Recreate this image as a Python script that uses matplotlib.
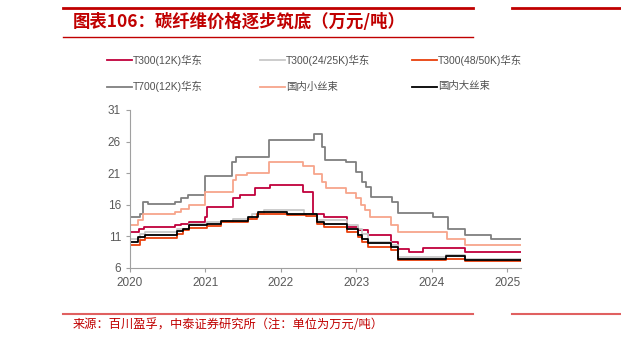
import matplotlib.pyplot as plt
from matplotlib.lines import Line2D

plt.rcParams['font.family'] = ['Liberation Sans', 'Noto Sans CJK SC', 'DejaVu Sans']

# 碳纤维价格（万元/吨），阶梯数据：变动时点（年）与价格
t700_x = [2020.0, 2020.13, 2020.17, 2020.24, 2020.60, 2020.68, 2020.77, 2021.0, 2021.35, 2021.40,
          2021.84, 2022.44, 2022.55, 2022.59, 2022.87, 2023.0, 2023.07, 2023.13, 2023.2, 2023.47,
          2023.55, 2024.02, 2024.21, 2024.44, 2024.79]
t700_y = [14.0, 14.5, 16.5, 16.2, 16.5, 17.0, 17.6, 20.6, 22.8, 23.5,
          26.2, 27.2, 25.2, 23.1, 22.8, 21.2, 19.6, 18.8, 17.25, 16.5,
          14.7, 14.1, 12.1, 11.2, 10.6]

small_x = [2020.0, 2020.10, 2020.17, 2020.60, 2020.68, 2020.78, 2021.0, 2021.36, 2021.40, 2021.55,
           2021.84, 2022.30, 2022.44, 2022.55, 2022.60, 2022.87, 2023.0, 2023.06, 2023.12, 2023.18,
           2023.46, 2023.55, 2024.2, 2024.44]
small_y = [12.8, 13.6, 14.5, 14.9, 15.4, 15.9, 18.0, 19.9, 20.7, 21.1,
           22.7, 22.2, 20.9, 19.6, 18.6, 17.9, 17.0, 16.0, 15.2, 14.1,
           12.8, 11.7, 10.55, 9.6]

t300_x = [2020.0, 2020.12, 2020.18, 2020.60, 2020.68, 2020.78, 2021.0, 2021.02, 2021.36, 2021.46,
          2021.66, 2021.86, 2022.29, 2022.43, 2022.57, 2022.88, 2023.02, 2023.15, 2023.46, 2023.55,
          2023.7, 2023.88, 2024.44]
t300_y = [11.7, 12.2, 12.5, 12.8, 13.0, 13.3, 14.1, 15.7, 17.0, 17.5,
          18.6, 19.2, 18.0, 14.6, 14.1, 12.5, 12.0, 11.2, 10.1, 9.0,
          8.6, 9.1, 8.6]

t300_24_x = [2020.0, 2020.13, 2020.20, 2020.62, 2020.78, 2021.02, 2021.36, 2021.62, 2021.77, 2022.31,
             2022.48, 2022.88, 2023.02, 2023.08, 2023.15, 2023.46, 2023.55, 2024.19, 2024.44]
t300_24_y = [10.6, 11.4, 11.7, 12.2, 13.0, 13.3, 13.7, 14.6, 15.1, 14.6,
             13.6, 12.8, 12.2, 11.4, 10.1, 9.6, 7.8, 8.0, 7.5]

large_x = [2020.0, 2020.11, 2020.2, 2020.62, 2020.7, 2020.78, 2021.02, 2021.2, 2021.57, 2021.7,
           2022.08, 2022.33, 2022.48, 2022.57, 2022.88, 2023.02, 2023.08, 2023.15, 2023.46, 2023.55,
           2024.19, 2024.44]
large_y = [10.1, 10.9, 11.2, 11.8, 12.2, 12.8, 13.0, 13.4, 14.1, 14.8,
           14.6, 14.5, 13.2, 13.0, 12.2, 11.2, 10.55, 9.9, 9.3, 7.5,
           7.85, 7.2]

t300_48_x = [2020.0, 2020.13, 2020.2, 2020.62, 2020.7, 2020.78, 2021.02, 2021.2, 2021.57, 2021.68,
             2022.08, 2022.33, 2022.48, 2022.57, 2022.88, 2023.02, 2023.08, 2023.15, 2023.46, 2023.55,
             2024.19, 2024.44]
t300_48_y = [9.6, 10.4, 10.8, 11.4, 12.0, 12.3, 12.7, 13.2, 13.7, 14.5,
             14.4, 14.3, 13.0, 12.5, 11.7, 10.9, 10.1, 9.3, 8.8, 7.2,
             7.5, 7.05]

x_end = 2025.18
year_ticks = [2020, 2021, 2022, 2023, 2024, 2025]
y_ticks = [6, 11, 16, 21, 26, 31]

series = [
    ("T300(12K)华东", t300_x, t300_y, "#C0003C"),
    ("T300(24/25K)华东", t300_24_x, t300_24_y, "#C8C8C8"),
    ("T300(48/50K)华东", t300_48_x, t300_48_y, "#E8400C"),
    ("T700(12K)华东", t700_x, t700_y, "#7F7F7F"),
    ("国内小丝束", small_x, small_y, "#F7A58B"),
    ("国内大丝束", large_x, large_y, "#000000"),
]
draw_order = [3, 4, 0, 1, 2, 5]

fig = plt.figure(figsize=(6.21, 3.45), dpi=100)
ax = fig.add_axes([130 / 621, 1 - 268 / 345, (520.7 - 130) / 621, (268 - 110) / 345])

for i in draw_order:
    name, xs, ys, c = series[i]
    ax.step(xs + [x_end], ys + [ys[-1]], where='post', color=c, lw=1.3, zorder=2 + i * 0.1)

ax.set_xlim(2020, x_end)
ax.set_ylim(6, 31)
ax.set_xticks(year_ticks)
ax.set_yticks(y_ticks)
for s in ['top', 'right']:
    ax.spines[s].set_visible(False)
for s in ['left', 'bottom']:
    ax.spines[s].set_color('#A0A0A0')
    ax.spines[s].set_linewidth(0.8)
ax.tick_params(colors='#A0A0A0', length=3, width=0.8, labelsize=8.5, labelcolor='#595959')

# 图例（两行三列）
legend_cols = [107, 260, 412]
legend_rows = [60, 86.5]
for k, (name, xs, ys, c) in enumerate(series):
    r, col = divmod(k, 3)
    x0 = legend_cols[col] / 621
    y0 = 1 - legend_rows[r] / 345
    fig.add_artist(Line2D([x0, x0 + 25 / 621], [y0, y0], color=c, lw=1.3))
    fig.text(x0 + 26 / 621, y0, name, fontsize=7.5, color='#505050', va='center', ha='left')

# 标题与红线
red = '#C00000'
fig.add_artist(Line2D([63 / 621, 473 / 621], [1 - 8 / 345] * 2, color=red, lw=2))
fig.add_artist(Line2D([512 / 621, 1], [1 - 8 / 345] * 2, color=red, lw=2))
fig.add_artist(Line2D([63 / 621, 473 / 621], [1 - 37 / 345] * 2, color=red, lw=1))
fig.text(73 / 621, 1 - 22 / 345, "图表106：碳纤维价格逐步筑底（万元/吨）", fontsize=12.5,
         fontweight='bold', color=red, va='center', ha='left',
         family=['Noto Sans CJK SC', 'DejaVu Sans'])

fig.add_artist(Line2D([63 / 621, 473 / 621], [1 - 314 / 345] * 2, color='#E06060', lw=1.5))
fig.add_artist(Line2D([512 / 621, 1], [1 - 314 / 345] * 2, color='#E06060', lw=1.5))
fig.text(73 / 621, 1 - 325 / 345, "来源：百川盈孚，中泰证券研究所（注：单位为万元/吨）", fontsize=8.8,
         color=red, va='center', ha='left', family=['Noto Sans CJK SC', 'DejaVu Sans'])

fig.savefig('out.png', dpi=100)
